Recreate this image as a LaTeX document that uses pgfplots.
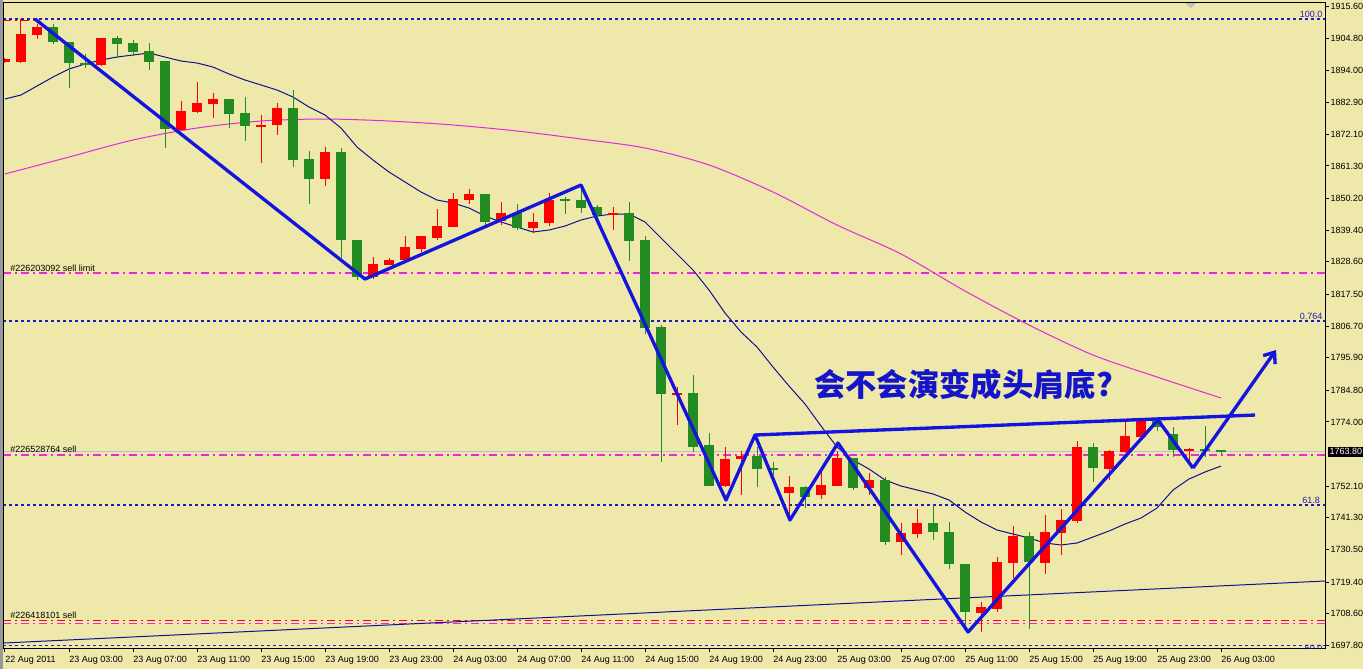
\documentclass[border=0pt]{standalone}
\usepackage{pgfplots}
\pgfplotsset{compat=1.18}
\usepackage{pgfplotstable}
\usepackage{fontspec}
\setmainfont{Liberation Sans}
\newfontfamily\cjk{Noto Sans CJK SC}
\usetikzlibrary{arrows.meta}

\definecolor{bg}{RGB}{238,232,170}
\definecolor{upred}{RGB}{255,0,0}
\definecolor{dngreen}{RGB}{34,139,34}
\definecolor{mafast}{RGB}{16,16,150}
\definecolor{maslow}{RGB}{225,40,225}
\definecolor{pen}{RGB}{20,20,225}
\definecolor{fibo}{RGB}{30,30,190}
\definecolor{ordmag}{RGB}{235,40,225}
\definecolor{word}{RGB}{20,20,200}

\newcommand\mtfont{\fontsize{6.75}{8}\selectfont}

% hourly bars, k = 0 is 22 Aug 2011 23:00; columns open high low close
\pgfplotstableread{
k o h l c
0 1896.74 1898.10 1896.40 1897.76
1 1896.74 1911.40 1896.40 1906.29
2 1905.95 1909.70 1904.58 1908.67
6 1895.72 1904.92 1895.37 1904.92
11 1873.55 1883.44 1873.55 1880.03
12 1879.69 1889.92 1879.35 1882.76
13 1882.42 1886.17 1877.64 1884.12
16 1874.91 1878.67 1862.30 1875.26
17 1875.26 1882.76 1871.85 1881.05
20 1856.84 1867.75 1854.45 1866.05
23 1823.42 1830.24 1822.74 1827.86
24 1827.52 1829.90 1827.52 1829.22
25 1829.22 1837.40 1828.54 1833.65
26 1832.97 1837.40 1831.95 1837.40
27 1836.72 1846.61 1836.04 1840.81
28 1840.47 1852.07 1840.47 1850.02
29 1849.68 1853.43 1848.32 1851.73
31 1842.52 1849.00 1841.16 1845.25
33 1840.13 1845.25 1838.43 1842.18
34 1841.84 1852.07 1840.81 1849.68
38 1844.57 1847.29 1839.45 1845.25
42 1783.53 1785.91 1772.96 1783.87
45 1752.15 1765.45 1751.81 1761.36
46 1761.36 1764.09 1749.09 1762.38
49 1749.77 1755.56 1740.56 1751.81
51 1749.09 1758.63 1747.72 1752.50
52 1752.15 1764.09 1752.15 1761.70
54 1751.47 1756.59 1749.09 1754.20
56 1733.06 1739.54 1728.63 1736.13
57 1735.79 1744.31 1734.42 1739.54
61 1708.85 1712.60 1702.37 1710.89
62 1710.21 1727.94 1709.19 1726.24
63 1725.90 1738.51 1720.78 1735.10
65 1725.90 1742.27 1722.15 1736.47
66 1736.13 1744.31 1728.63 1740.56
67 1740.22 1767.50 1739.54 1765.45
69 1757.95 1764.43 1754.20 1764.09
70 1763.75 1774.32 1763.41 1769.20
71 1768.86 1775.00 1768.86 1774.32
74 1764.43 1765.11 1759.32 1764.77
}\upbars

\pgfplotstableread{
k o h l c
3 1908.67 1909.70 1902.88 1903.56
4 1903.56 1903.56 1887.87 1896.40
5 1896.40 1899.47 1894.69 1896.06
7 1904.92 1905.60 1898.10 1902.88
8 1903.22 1904.24 1898.78 1900.15
9 1900.49 1903.22 1894.01 1896.74
10 1897.08 1897.08 1867.41 1873.89
14 1884.12 1884.12 1874.23 1879.01
15 1879.35 1884.80 1869.80 1874.91
18 1881.05 1887.19 1860.93 1863.32
19 1863.66 1866.39 1848.32 1856.84
21 1866.05 1867.41 1829.90 1836.04
22 1836.04 1836.04 1822.40 1823.42
30 1851.73 1851.73 1841.16 1842.18
32 1845.25 1848.32 1839.45 1840.13
35 1850.02 1850.70 1844.91 1849.68
36 1849.68 1854.45 1845.25 1846.95
37 1847.29 1847.98 1843.54 1844.57
39 1845.25 1849.00 1828.88 1835.70
40 1836.04 1837.40 1803.99 1806.03
41 1806.37 1807.06 1760.34 1783.53
43 1783.87 1790.01 1763.75 1765.45
44 1766.14 1770.23 1752.15 1752.15
47 1762.38 1765.45 1751.81 1757.95
48 1758.29 1760.34 1755.91 1757.95
50 1751.81 1752.15 1744.65 1748.40
53 1761.70 1761.70 1750.79 1751.47
55 1754.20 1755.22 1732.04 1733.06
58 1739.54 1745.68 1733.74 1736.47
59 1736.47 1739.88 1723.85 1725.56
60 1725.56 1725.56 1703.73 1709.19
64 1735.10 1736.47 1703.39 1726.24
68 1765.45 1766.82 1753.52 1758.29
72 1774.32 1775.34 1770.91 1772.27
73 1769.89 1772.27 1762.04 1764.43
75 1764.77 1772.61 1762.04 1764.09
76 1764.60 1764.60 1762.90 1763.80
}\downbars

\pgfplotsset{
  wick/.style={only marks, mark=*, mark size=0pt, mark options={draw=none, fill=none}, forget plot,
    error bars/.cd, y dir=both, y explicit, error mark=none,
    error bar style={solid, line width=0.75pt, draw=#1}},
  body/.style={only marks, mark=*, mark size=0pt, mark options={draw=none, fill=none}, forget plot,
    error bars/.cd, y dir=both, y explicit, error mark=none,
    error bar style={solid, line width=8pt, line cap=butt, draw=#1}},
  level/.style={no marks, forget plot, line width=0.8pt},
  fibline/.style={level, draw=fibo, dash pattern=on 2.25pt off 2.25pt},
  ordline/.style={level, draw=#1, dash pattern=on 6pt off 3pt on 1.5pt off 3pt},
}

\begin{document}
\begin{tikzpicture}
\useasboundingbox (0,0) rectangle (1022.25pt,-501.75pt);
\fill[bg] (0,0) rectangle (1022.25pt,-501.75pt);
\fill[black!40] (0,0) rectangle (2.25pt,-501.75pt);
% chart-shift marker at the top edge
\fill[black!25] (888pt,-1.5pt) -- (898pt,-1.5pt) -- (893pt,-6pt) -- cycle;
\begin{axis}[
  at={(3pt,-486pt)}, anchor=south west,
  scale only axis, width=990.75pt, height=484.5pt,
  xmin=-0.0625, xmax=82.5, ymin=1696.91, ymax=1917.20,
  clip mode=individual,
  axis line style={black, line width=0.75pt},
  tick style={black, line width=0.75pt},
  tick align=outside, major tick length=3pt,
  xtick pos=bottom, ytick pos=right, yticklabel pos=right,
  xtick={0,4,...,76},
  xticklabels={22 Aug 2011,23 Aug 03:00,23 Aug 07:00,23 Aug 11:00,23 Aug 15:00,23 Aug 19:00,23 Aug 23:00,24 Aug 03:00,24 Aug 07:00,24 Aug 11:00,24 Aug 15:00,24 Aug 19:00,24 Aug 23:00,25 Aug 03:00,25 Aug 07:00,25 Aug 11:00,25 Aug 15:00,25 Aug 19:00,25 Aug 23:00,26 Aug 03:00},
  ytick={1915.6,1904.8,1894.0,1882.9,1872.1,1861.3,1850.2,1839.4,1828.6,1817.5,1806.7,1795.9,1784.8,1774.0,1752.1,1741.3,1730.5,1719.4,1708.6,1697.8},
  yticklabels={1915.60,1904.80,1894.00,1882.90,1872.10,1861.30,1850.20,1839.40,1828.60,1817.50,1806.70,1795.90,1784.80,1774.00,1752.10,1741.30,1730.50,1719.40,1708.60,1697.80},
  xticklabel style={font=\mtfont, anchor=north west, inner sep=0pt, xshift=0pt, yshift=-3pt},
  yticklabel style={font=\mtfont, anchor=west, inner sep=0pt, xshift=1pt},
]
% price levels and pending orders
\addplot[fibline] coordinates {(-0.1,1911.40) (82.6,1911.40)};
\addplot[ordline=upred] coordinates {(-0.1,1910.89) (1.8,1910.89)};
\addplot[ordline=ordmag] coordinates {(-0.1,1824.79) (82.6,1824.79)};
\addplot[fibline] coordinates {(-0.1,1808.42) (82.6,1808.42)};
\addplot[level, draw=black!25, line width=0.6pt] coordinates {(-0.1,1763.80) (82.6,1763.80)};
\addplot[ordline=ordmag] coordinates {(-0.1,1762.73) (82.6,1762.73)};
\addplot[fibline] coordinates {(-0.1,1745.68) (82.6,1745.68)};
\addplot[ordline=upred, line width=0.6pt] coordinates {(-0.1,1706.40) (82.6,1706.40)};
\addplot[ordline=ordmag, line width=0.6pt] coordinates {(-0.1,1705.20) (82.6,1705.20)};
\addplot[fibline] coordinates {(-0.1,1697.77) (82.6,1697.77)};
% long support trend line
\addplot[level, draw=mafast, line width=0.75pt] coordinates {(-0.0625,1698.62) (82.5,1719.76)};

% slow moving average
\addplot[no marks, forget plot, draw=maslow, line width=0.75pt, smooth] coordinates {
(0,1858.55) (4,1864.34) (8,1870.14) (12,1874.23) (16,1876.62) (20,1877.30)
(24,1876.62) (28,1875.26) (32,1873.21) (36,1870.48) (40,1867.41) (44,1861.62)
(48,1852.41) (52,1841.16) (56,1831.27) (60,1818.65) (64,1807.06) (68,1796.83)
(72,1789.32) (76,1782.16)};
% fast moving average
\addplot[no marks, forget plot, draw=mafast, line width=0.75pt] coordinates {
(0,1884.12) (1,1885.49) (2,1888.55) (3,1891.62) (4,1894.35) (5,1896.06)
(6,1897.42) (7,1898.44) (8,1899.13) (9,1899.81) (10,1898.44) (11,1897.08)
(12,1896.40) (13,1895.03) (14,1892.65) (15,1890.60) (16,1888.90) (17,1887.19)
(18,1884.80) (19,1881.39) (20,1878.67) (21,1874.23) (22,1867.75) (23,1863.32)
(24,1859.23) (25,1855.82) (26,1852.41) (27,1849.68) (28,1848.66) (29,1846.95)
(30,1844.22) (31,1842.18) (32,1840.47) (33,1838.77) (34,1839.45) (35,1840.81)
(36,1842.86) (37,1844.22) (38,1844.91) (39,1844.91) (40,1842.18) (41,1836.72)
(42,1831.27) (43,1825.81) (44,1818.99) (45,1811.15) (46,1804.67) (47,1799.55)
(48,1792.73) (49,1786.25) (50,1780.12) (51,1772.61) (52,1765.45) (53,1761.02)
(54,1757.95) (55,1754.20) (56,1752.15) (57,1750.79) (58,1749.43) (59,1747.38)
(60,1743.29) (61,1739.88) (62,1737.15) (63,1735.79) (64,1734.42) (65,1732.72)
(66,1732.04) (67,1732.72) (68,1734.76) (69,1736.81) (70,1739.20) (71,1741.24)
(72,1744.65) (73,1750.79) (74,1754.54) (75,1756.93) (76,1758.97)};

% candles
\addplot[wick=upred] table[x=k, y expr=(\thisrow{h}+\thisrow{l})/2,
  y error expr=(\thisrow{h}-\thisrow{l})/2] {\upbars};
\addplot[wick=dngreen] table[x=k, y expr=(\thisrow{h}+\thisrow{l})/2,
  y error expr=(\thisrow{h}-\thisrow{l})/2] {\downbars};
\addplot[body=upred] table[x=k, y expr=(\thisrow{o}+\thisrow{c})/2,
  y error expr={max(abs(\thisrow{c}-\thisrow{o})/2,0.2)}] {\upbars};
\addplot[body=dngreen] table[x=k, y expr=(\thisrow{o}+\thisrow{c})/2,
  y error expr={max(abs(\thisrow{c}-\thisrow{o})/2,0.2)}] {\downbars};

% hand-drawn swing lines and neckline
\addplot[no marks, forget plot, draw=pen, line width=2.5pt, line join=round] coordinates {
(1.875,1911.40) (22.5,1822.74) (36.0,1854.79) (45.06,1747.38) (46.875,1769.54)
(49.06,1740.56) (52.06,1766.82) (60.19,1702.37) (72.06,1774.66) (74.25,1758.29)};
\addplot[no marks, forget plot, draw=pen, line width=2.5pt,
  -{Straight Barb[length=7pt, width=11pt]}] coordinates {(74.25,1758.29) (79.44,1798.53)};
\addplot[no marks, forget plot, draw=pen, line width=2.5pt] coordinates {(46.875,1769.54) (78.125,1776.36)};

% labels
\node[font=\mtfont, anchor=base west, inner sep=0pt] at (axis cs:0.3125,1825.47) {\#226203092 sell limit};
\node[font=\mtfont, anchor=base west, inner sep=0pt] at (axis cs:0.3125,1763.75) {\#226528764 sell};
\node[font=\mtfont, anchor=base west, inner sep=0pt] at (axis cs:0.3125,1707.10) {\#226418101 sell};
\node[font=\mtfont, text=fibo, anchor=base east, inner sep=0pt] at (axis cs:82.35,1912.08) {100.0};
\node[font=\mtfont, text=fibo, anchor=base east, inner sep=0pt] at (axis cs:82.35,1809.10) {0.764};
\node[font=\mtfont, text=fibo, anchor=base east, inner sep=0pt] at (axis cs:82.2,1746.36) {61.8};
\begin{scope}
\clip (axis cs:-0.0625,1696.91) rectangle (axis cs:82.5,1917.20);
\node[font=\mtfont, text=fibo, anchor=base east, inner sep=0pt] at (axis cs:82.35,1695.7) {50.0};
\end{scope}
\node[font=\mtfont, fill=black, text=white, anchor=west, inner xsep=1pt, inner ysep=1.5pt]
  at (axis cs:82.5,1763.80) [xshift=2.25pt] {1763.80};
\node[font=\cjk\bfseries\fontsize{23.5pt}{24pt}\selectfont, text=word] at (axis cs:59.9,1786.6) {会不会演变成头肩底?};
\end{axis}
\end{tikzpicture}
\end{document}
